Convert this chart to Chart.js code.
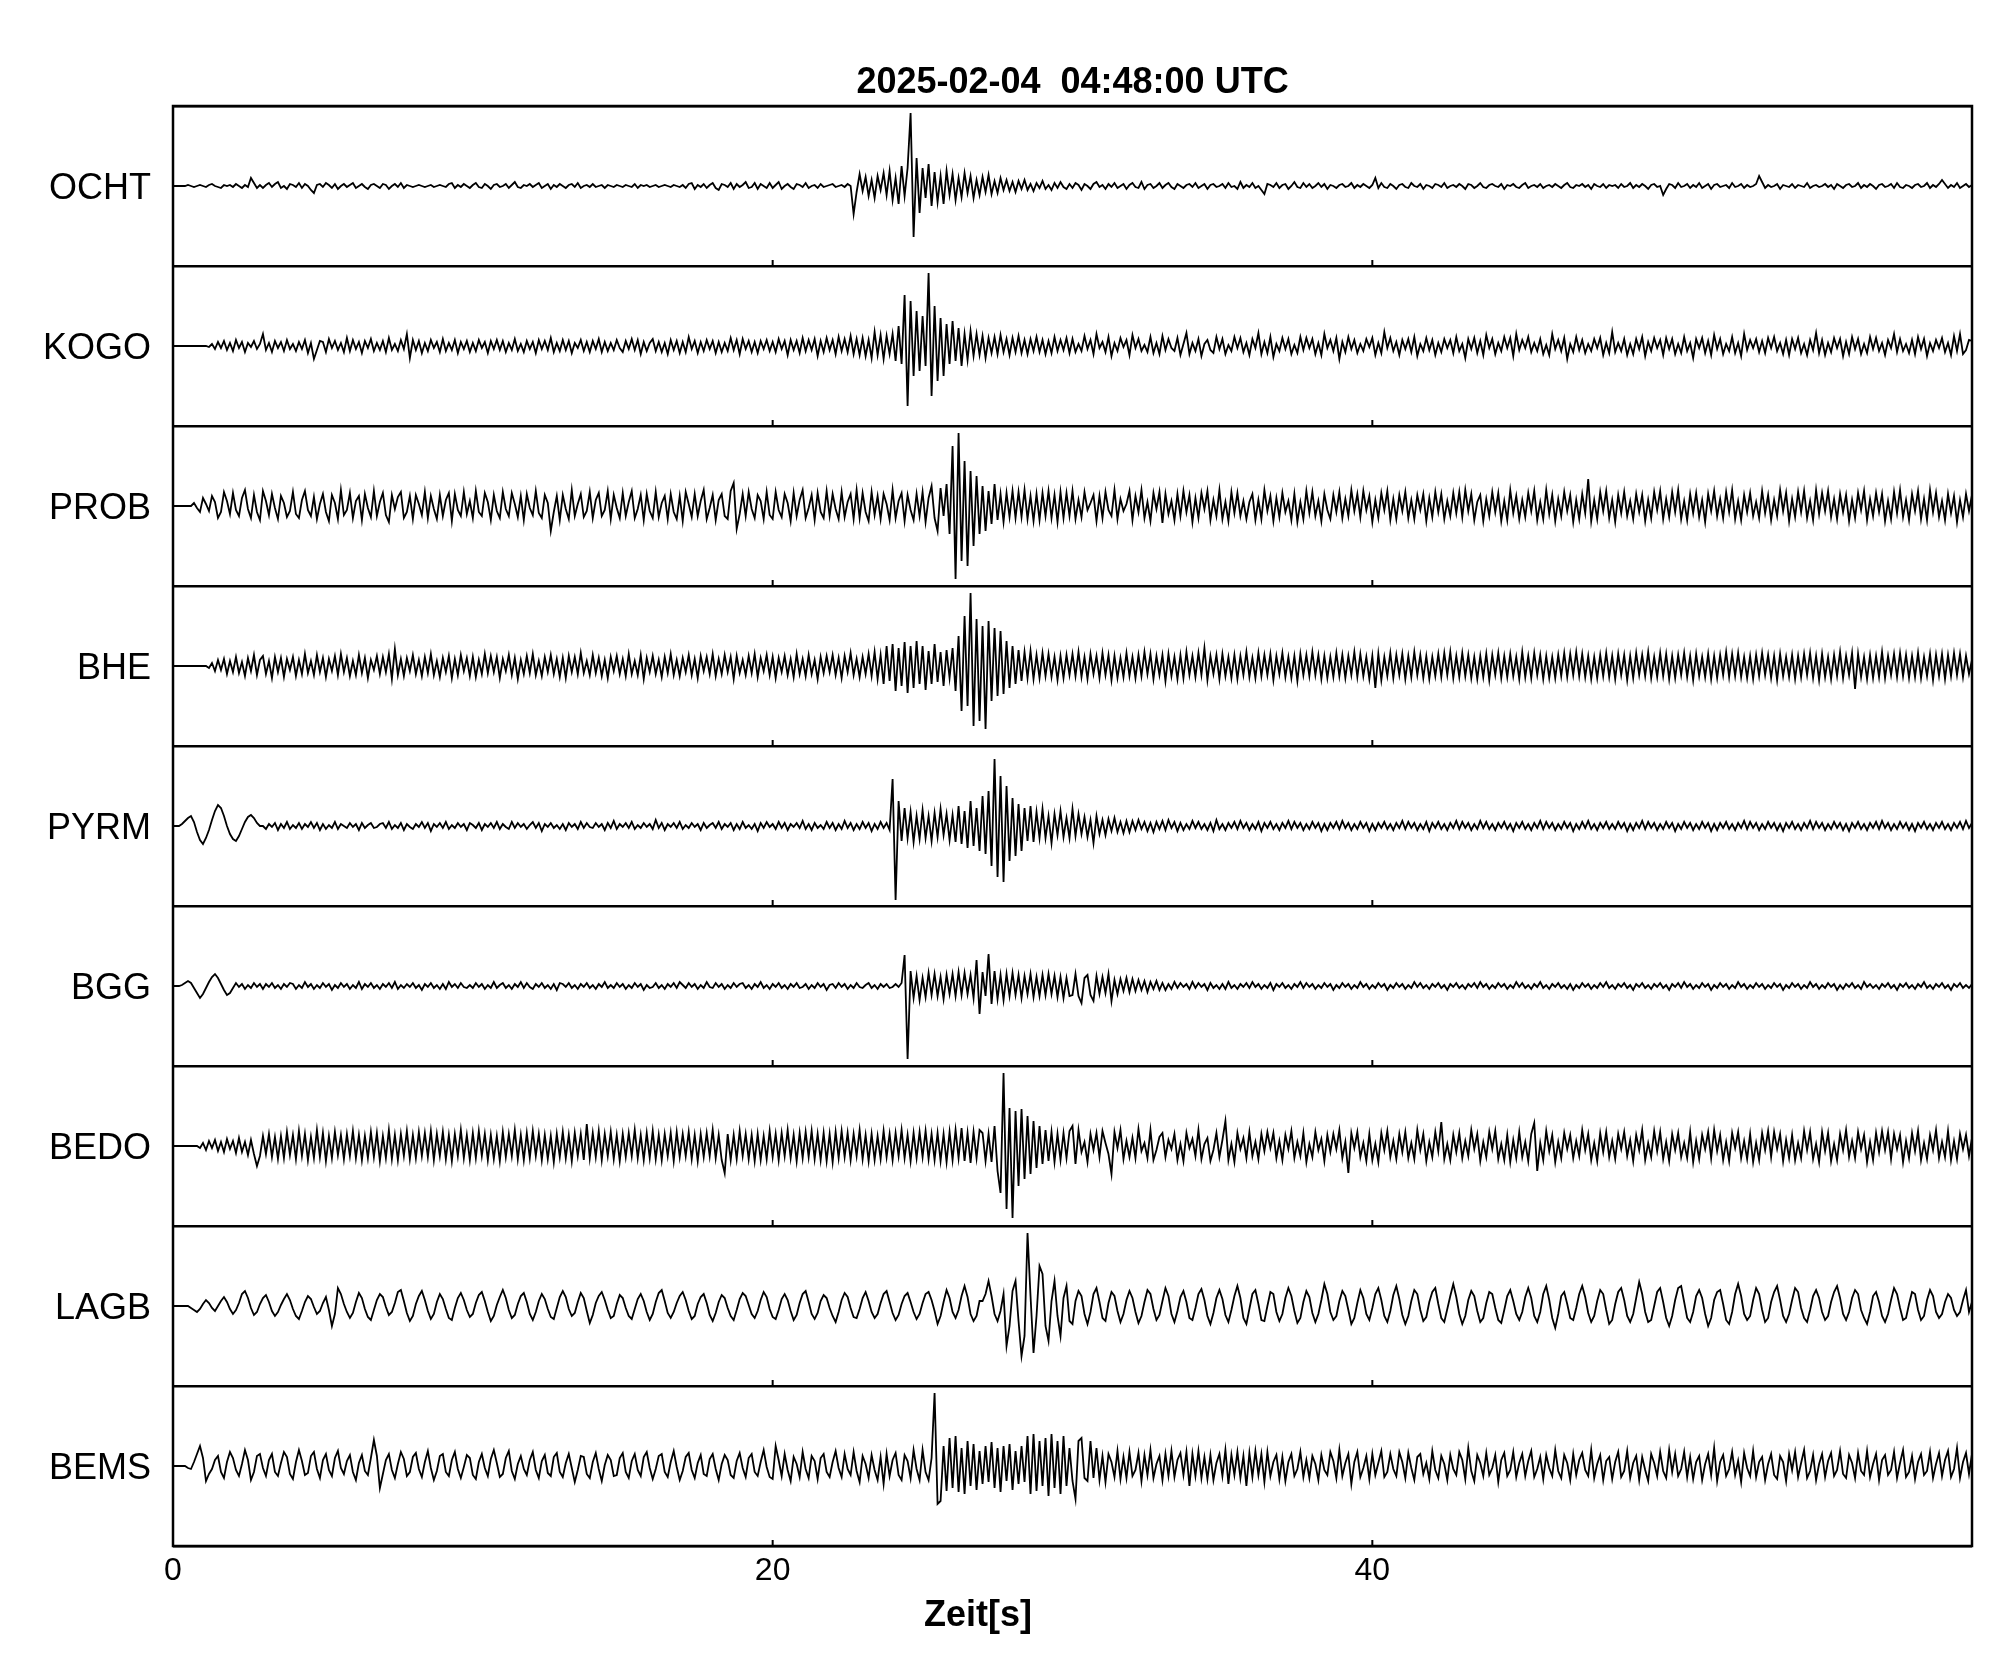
<!DOCTYPE html>
<html>
<head>
<meta charset="utf-8">
<script src="https://cdn.jsdelivr.net/npm/chart.js@4/dist/chart.umd.min.js"></script>
<style>
  html, body { margin: 0; padding: 0; background: #fff; }
  canvas { display: block; }
</style>
</head>
<body>
<canvas id="c" width="2005" height="1680"></canvas>
<script>
// --- data -------------------------------------------------------------
const TITLE = '2025-02-04  04:48:00 UTC';
const X_LABEL = 'Zeit[s]';
const STATIONS = ['OCHT', 'KOGO', 'PROB', 'BHE', 'PYRM', 'BGG', 'BEDO', 'LAGB', 'BEMS'];
const X_TICKS = [0, 20, 40];
const T_MAX = 60;
const DT = 0.1; // seconds between samples

// ground motion per station; one line = 5 s
const OCHT = [
  0,0,0,0,0,1,0,-1,0,1, 0,-1,1,2,0,-1,-2,1,0,1, -1,2,0,-2,1,-1,8,3,-2,1, -2,1,3,-1,2,4,-2,0,-3,2, 1,-1,3,-2,2,0,-4,-7,1,2,
  -1,3,1,-2,2,-3,0,2,-1,1, 3,-2,0,2,-1,-3,1,2,0,-2, 2,1,-3,0,2,-1,3,-2,1,0, -1,0,1,0,-1,0,1,-1,0,1, 0,-1,2,3,-2,1,-1,2,0,-2,
  1,3,-1,-2,2,0,-3,1,2,-1, 0,2,-2,1,4,-1,-2,1,0,2, -1,1,3,-2,0,2,-3,1,-1,2, 0,-2,1,2,-1,3,-2,0,1,-1, 2,-1,0,1,-2,1,0,-1,1,0,
  -1,1,0,-1,2,-2,1,0,1,-1, 0,1,-1,0,1,0,-1,1,0,-1, 1,-2,2,3,-3,1,-1,2,-2,1, 3,-2,-4,2,1,-1,3,-3,2,-1, 1,4,-2,-1,3,-3,2,0,-2,3,
  -2,1,4,-3,0,2,-1,-3,2,1, -1,3,-2,0,1,-2,2,-1,0,1, 2,-1,0,1,-1,2,0,-28,-6,12, -5,9,-10,6,-12,10,-4,13,-9,15, -14,8,-18,20,-10,18,73,-51,28,-27,
  18,-12,22,-20,14,-16,10,-18,15,-9, 12,-14,8,-11,13,-7,10,-12,6,-9, 9,-6,11,-8,5,-7,8,-4,6,-5, 4,-6,5,-3,6,-4,2,-5,3,-2, 5,-3,1,-4,3,-2,4,-1,-3,2,
  -2,3,1,-4,2,0,-3,2,4,-1, 1,-3,2,-1,3,-2,0,2,-3,1, 3,-1,-2,4,-3,1,2,-2,0,3, -2,1,3,-1,-3,2,0,-2,1,2, -1,3,-2,0,2,-3,1,2,-1,0,
  2,-2,3,-1,0,-3,4,-2,1,-1, 3,-2,0,-4,-8,2,1,-1,3,-2, 1,2,-3,0,4,-1,-2,3,-1,2, -2,0,3,-1,2,-3,1,0,-2,1, 2,-1,0,3,-2,1,-1,2,0,-2,
  1,8,-2,3,-1,-2,2,0,-3,1, 2,-1,-2,3,0,-1,2,-3,1,0, -2,2,1,-1,3,-2,0,1,-1,2, 0,-3,2,1,-2,0,3,-1,-2,1, 2,0,-1,2,-3,1,0,2,-1,-2,
  1,3,-2,0,1,-1,2,-2,0,1, -1,2,0,-2,1,3,-1,-2,1,0, 2,-1,1,-3,2,0,-1,2,-2,1, 0,1,-2,2,-1,0,3,-2,1,-1, 2,0,-3,1,2,-1,0,-9,-3,2,
  1,-2,3,-1,0,2,-2,1,-1,3, -2,0,2,-3,1,2,-1,0,1,-2, 3,-1,0,2,-2,1,-1,0,2,10, 4,-2,1,-1,0,2,-3,1,0,-1, 2,-2,1,0,-1,3,-2,0,1,-1,
  0,2,-1,1,-3,2,0,-2,1,2, -1,0,3,-2,1,-1,2,0,-3,1, 2,-1,0,2,-2,3,-1,-2,1,0, -2,1,2,-1,0,3,-2,1,-1,2, 6,2,-2,1,-1,3,-2,0,2,-1,
  1
];
const KOGO = [
  0,0,0,0,0,0,0,0,0,0, 0,0,-1,2,-3,4,-2,5,-4,3, -5,6,-2,4,-6,3,-1,5,-3,2, 12,-4,3,-6,5,-2,4,-5,6,-3, 2,-5,4,-3,6,-7,3,-13,-4,5,
  4,-6,7,-2,5,-4,3,-6,8,-5, 6,-3,4,-7,5,-2,7,-5,3,-4, 5,-6,8,-4,2,-5,6,-3,12,-12, 6,-4,5,-7,3,-5,6,-2,4,-6, 7,-5,3,-4,6,-7,4,-3,5,-6,
  3,-5,6,-2,4,-7,5,-3,6,-4, 5,-6,3,-4,7,-5,2,-6,5,-3, 4,-7,6,-3,5,-4,8,-6,3,-5, 6,-4,5,-7,3,-2,6,-5,4,-6, 5,-3,7,-6,4,-5,3,-4,6,-2,
  -6,5,-3,7,-4,6,-8,4,-5,3, 7,-5,4,-6,3,-8,6,-4,5,-7, 4,-6,9,-3,5,-7,4,-5,6,-3, 5,-7,4,-6,3,-5,8,-4,6,-8, 7,-3,5,-6,4,-7,5,-3,6,-5,
  4,-6,7,-3,5,-9,6,-4,5,-7, 8,-5,6,-4,7,-10,5,-6,8,-4, 6,-8,9,-5,7,-6,10,-8,7,-9, 8,-10,6,-12,14,-9,11,-13,10,-8, 12,-15,20,-18,51,-60,45,-30,35,-25,
  30,-20,73,-50,40,-35,28,-30,22,-18, 25,-15,18,-20,12,-14,15,-10,12,-9, 10,-12,8,-7,9,-8,11,-6,7,-9, 8,-6,10,-7,6,-8,7,-5,9,-6, 6,-8,5,-7,9,-5,6,-4,8,-7,
  7,-6,2,-5,10,-3,6,-8,12,-2, 4,-6,9,-10,3,-5,8,-1,6,-9, 11,-2,7,-5,1,-6,9,-7,3,-8, 10,-4,7,-2,-5,8,-9,2,13,-8, 3,-5,7,-10,2,6,-4,-7,9,-3,
  7,-8,1,-5,9,-2,8,-6,3,-9, 7,-2,13,-8,4,-7,9,-11,2,-5, 8,-3,7,-8,1,-7,9,-4,8,-2, 7,-8,3,-9,12,-2,6,-5,8,-13, 4,-6,9,-3,6,-7,2,-5,7,-1,
  8,-9,3,-7,14,-2,8,-5,4,-9, 6,-3,7,-6,9,-10,2,-5,8,-4, 6,-9,3,-6,7,-2,6,-7,9,-5, 2,-12,7,-3,8,-7,5,-9,11,-2, 7,-8,3,-5,9,-2,8,-10,12,-4,
  6,-2,9,-6,3,-5,7,-8,1,-9, 12,-3,6,-5,8,-13,2,-6,9,-4, 6,-7,2,-5,7,-2,8,-9,3,-7, 14,-6,3,-5,7,-9,2,-8,7,-3, 9,-10,4,-5,8,-2,6,-9,8,-3,
  7,-8,2,-7,9,-5,3,-12,7,-2, 8,-7,5,-9,11,-3,7,-8,2,-5, 9,-7,3,-10,12,-4,6,-2,7,-6, 5,-7,8,-2,9,-5,3,-8,6,-9, 7,-3,8,-7,2,-9,6,-4,13,-7,
  6,-9,3,-6,8,-2,7,-10,4,-8, 9,-3,7,-8,2,-7,9,-3,8,-5, 3,-9,6,-2,12,-6,7,-5,2,-7, 6,-8,9,-3,7,-10,3,-5,6,-2, 8,-6,3,-9,10,-5,12,-8,-4,6,
  5
];
const PROB = [
  0,0,0,0,0,0,0,3,-2,-6, 8,2,-5,10,4,-12,-6,14,5,-8, 13,-4,-10,8,16,-3,-12,11,-6,-14, 15,5,-9,12,-2,-13,10,3,-11,-5, 14,-8,-12,6,15,-4,-10,9,-13,2,
  12,-6,-15,11,3,-13,16,-9,-4,13, -12,5,10,-14,12,-2,-11,15,-10,4, 13,-9,-16,11,-3,9,14,-12,-6,10, -13,11,2,-9,14,-12,10,-3,-13,11, -10,6,13,-15,12,-4,-10,14,-8,5,
  -12,15,-6,-10,13,4,-14,11,-5,-12, 14,-3,-10,13,2,-11,10,-14,12,-2, -9,15,-7,-12,11,3,-25,-6,10,-14, 11,-3,-13,16,-10,2,12,-11,-5,14, -12,6,13,-10,-4,15,-13,11,-2,-12,
  13,-10,4,15,-12,-3,11,-14,12,-5, -12,14,-11,3,10,-13,12,-6,-13,10, -15,14,2,-11,12,-10,5,16,-13,-2, 11,-14,6,12,-10,-13,15,23,-23,-8, 12,-10,14,-3,-12,11,5,-13,14,-9,
  -13,14,-4,-11,12,3,-15,13,-10,6, 16,-12,-2,11,-14,13,-6,-12,15,-10, 12,-3,-13,14,-11,4,12,-13,16,-12, 13,-6,-15,14,-9,10,-13,12,2,-14, 16,-12,5,13,-15,11,-4,-14,12,-10,
  14,-16,8,20,-12,-25,18,-10,22,-28, 60,-73,73,-55,45,-60,35,-40,30,-28, 20,-25,15,-18,22,-14,12,-16,13,-11, 15,-12,14,-11,16,-13,10,-15,12,-14, 13,-10,15,-12,11,-16,14,-12,13,-10,
  15,-13,6,-11,14,-4,3,11,-15,10, -12,14,-4,-10,16,-13,7,-5,2,15, -14,10,-6,16,-12,4,-15,13,-3,14, -17,12,-8,5,-14,12,-10,15,-6,11, -16,8,-12,13,-3,15,-14,6,-10,16,
  -13,4,-15,14,-7,13,-10,5,-13,4, 12,-14,6,-13,16,-5,10,-15,8,-11, 13,-6,5,-14,12,-16,4,-13,15,-7, 14,-10,5,-15,12,-4,-13,11,-6,14, -12,7,-10,16,-5,12,-11,15,-4,10,
  -16,6,-12,13,-4,15,-14,7,-13,11, -5,14,-12,6,-13,11,-4,12,-15,8, -11,14,-6,12,-13,5,-10,13,-7,14, -11,16,-5,12,-14,4,11,-15,7,-10, 14,-6,13,-15,5,-14,16,-7,10,-13,
  6,-11,13,-5,15,-14,4,-13,16,-8, 11,-15,7,-10,14,-5,11,-16,6,-13, 12,-7,27,-15,6,-13,14,-5,15,-12, 6,-16,11,-7,14,-10,5,-13,12,-6, 11,-15,6,-12,14,-4,15,-13,7,-11,
  14,-6,16,-13,5,-14,12,-7,13,-11, 6,-16,12,-5,15,-10,7,-12,14,-6, 16,-13,5,-14,11,-6,13,-10,4,-12, 15,-7,11,-14,6,-10,16,-5,13,-15, 7,-11,14,-6,15,-12,5,-14,16,-8,
  13,-5,15,-11,7,-13,12,-6,11,-15, 6,-12,13,-4,15,-14,7,-10,13,-6, 12,-15,5,-13,14,-7,16,-11,6,-14, 12,-5,15,-13,7,-14,16,-6,13,-11, 5,-14,12,-7,10,-16,6,-11,12,-5,
  11
];
const BHE = [
  0,0,0,0,0,0,0,0,0,0, 0,0,-2,3,-5,6,-4,7,-8,5, -6,9,-7,4,-10,8,-5,11,-9,6, 10,-8,5,-12,9,-6,8,-11,7,-4, 9,-10,6,-8,12,-7,5,-9,11,-6,
  8,-11,7,-5,10,-9,12,-6,8,-10, 5,-9,11,-7,8,-12,6,-4,10,-8, 9,-6,12,-13,17,-9,7,-10,8,-5, 11,-8,6,-10,9,-7,12,-9,5,-11, 8,-6,10,-12,7,-9,11,-5,8,-10,
  9,-11,6,-8,12,-7,10,-6,9,-12, 7,-5,11,-9,8,-13,6,-8,10,-7, 12,-9,5,-10,9,-6,11,-8,7,-11, 8,-12,10,-6,9,-8,13,-7,5,-9, 11,-7,8,-10,6,-12,9,-5,10,-8,
  7,-10,12,-8,5,-9,11,-13,8,-6, 10,-8,6,-11,9,-7,12,-9,6,-10, 8,-6,11,-9,7,-12,10,-5,9,-8, 12,-10,7,-8,11,-6,9,-13,10,-7, 6,-9,10,-7,12,-11,8,-5,11,-9,
  9,-12,8,-6,10,-9,7,-11,12,-8, 7,-10,11,-8,6,-13,9,-7,10,-6, 11,-9,8,-12,10,-6,13,-9,7,-11, 9,-8,12,-10,14,-13,11,-18,20,-15, 22,-25,18,-20,24,-27,20,-22,25,-18,
  20,-24,15,-18,22,-16,14,-20,16,-12, 18,-25,30,-45,50,-40,73,-60,47,-55, 40,-63,45,-35,38,-30,35,-28,25,-22, 20,-18,16,-15,14,-12,15,-13,11,-12, 13,-10,12,-11,9,-14,10,-12,11,-9,
  12,-10,14,-11,9,-13,12,-8,10,-12, 13,-9,11,-14,10,-12,8,-11,13,-10, 9,-12,11,-10,14,-8,12,-13,10,-9, 11,-15,12,-10,9,-13,11,-12,14,-9, 10,-11,13,-9,18,-14,10,-8,11,-13,
  12,-10,9,-12,11,-13,10,-9,14,-11, 8,-12,13,-10,11,-9,12,-14,10,-8, 13,-11,9,-12,10,-15,12,-9,11,-10, 14,-9,11,-13,10,-12,9,-11,13,-10, 11,-12,10,-9,14,-11,12,-10,9,-13,
  10,-22,12,-14,9,-10,13,-12,11,-9, 12,-13,10,-11,14,-9,11,-12,10,-13, 9,-10,12,-11,13,-9,14,-12,10,-11, 13,-10,11,-12,9,-13,10,-11,12,-14, 11,-9,13,-12,10,-11,12,-10,9,-13,
  14,-11,10,-12,13,-9,11,-13,10,-12, 9,-12,11,-10,13,-11,12,-9,14,-10, 12,-11,10,-13,9,-12,11,-10,13,-11, 10,-13,12,-9,11,-14,10,-12,13,-9, 11,-10,14,-12,9,-11,13,-10,12,-13,
  10,-12,11,-9,13,-11,10,-14,12,-10, 9,-11,12,-13,10,-12,11,-9,14,-11, 12,-10,13,-11,9,-12,10,-13,11,-10, 13,-9,11,-12,10,-14,12,-10,9,-11, 11,-13,10,-11,12,-9,13,-12,10,-14,
  12,-11,9,-13,11,-10,14,-12,10,-9, 13,-23,12,-11,9,-13,11,-12,10,-11, 14,-12,10,-9,12,-11,13,-10,11,-12, 10,-11,13,-12,9,-10,12,-14,11,-10, 12,-13,11,-10,13,-9,12,-11,10,-8,
  6
];
const PYRM = [
  0,0,0,2,5,8,10,4,-6,-14, -18,-12,-4,6,15,21,18,10,0,-8, -13,-15,-10,-3,4,9,11,8,3,0, 0,-3,2,-1,3,-4,2,-2,4,-3, 1,-2,3,-3,2,-1,4,-2,3,-4,
  2,-3,1,-2,4,-3,2,0,-2,3, -1,2,-4,3,-2,1,3,-2,-1,2, 3,-2,4,-3,1,-2,3,-4,2,-1, -3,2,-1,4,-2,3,-5,2,-1,3, -2,4,-3,1,-2,3,-1,2,-4,3,
  1,-2,3,-4,2,-1,3,-2,4,-3, 2,-1,-3,4,-2,3,-1,2,-3,1, 4,-2,3,-5,2,-1,3,-2,1,-3, 2,-4,3,-1,2,-3,4,-2,3,-1, -2,3,-1,2,-4,3,-2,5,-3,2,
  -1,3,-2,4,-3,1,-2,3,-1,2, -3,6,-2,3,-4,2,-1,3,-2,4, -3,1,-2,3,-1,2,-4,3,-2,1, 3,-2,4,-3,2,-1,3,-4,2,-3, 4,-2,1,-3,2,-5,3,-2,4,-1,
  2,-3,4,-2,3,-4,2,-1,3,-2, 5,-3,2,-4,3,-2,1,-3,4,-2, 3,-4,2,-3,5,-2,3,-4,2,-3, 4,-2,3,-5,2,-3,4,-2,3,-4, 47,-74,25,-15,18,-12,14,-16,10,-13,
  16,-12,10,-15,13,-11,17,-9,12,-14, 11,-16,20,-18,15,-22,25,-20,18,-25, 30,-28,35,-40,67,-51,50,-56,40,-35, 28,-30,22,-25,18,-15,20,-16,14,-12, 17,-12,10,-17,12,-9,15,-11,8,-12,
  17,-10,12,-8,9,-11,6,-17,10,-8, 6,-9,7,-5,8,-6,4,-7,5,-6, 5,-4,6,-3,4,-5,3,-6,4,-3, 5,-4,6,-2,4,-5,3,-4,2,-3, 5,-2,4,-3,2,-4,3,-5,6,-3,
  2,-4,3,-2,4,-3,5,-2,3,-4, 2,-3,4,-5,3,-2,4,-3,2,-4, 3,-2,5,-3,4,-2,3,-4,2,-3, 4,-2,3,-5,2,-4,3,-2,4,-3, 5,-2,3,-4,2,-3,4,-2,3,-5,
  2,-4,3,-2,4,-3,2,-4,3,-2, 5,-3,4,-2,3,-4,2,-3,4,-5, 3,-2,4,-3,2,-4,3,-2,5,-3, 4,-2,3,-4,2,-3,5,-2,4,-3, 2,-4,3,-2,4,-3,2,-5,3,-2,
  4,-3,2,-4,3,-2,5,-3,4,-2, 3,-4,2,-3,4,-2,3,-5,2,-3, 4,-2,5,-3,2,-4,3,-2,4,-3, 2,-3,4,-2,3,-5,2,-4,3,-2, 5,-3,4,-2,3,-4,2,-3,4,-2,
  3,-5,2,-3,4,-2,3,-4,2,-3, 4,-2,3,-5,2,-4,3,-2,4,-3, 2,-4,3,-2,5,-3,4,-2,3,-4, 2,-3,4,-2,3,-4,2,-5,3,-2, 4,-3,2,-4,3,-2,5,-3,4,-2,
  3,-4,2,-3,4,-2,3,-4,2,-5, 3,-2,4,-3,2,-4,3,-2,4,-3, 5,-2,3,-4,2,-3,4,-2,3,-4, 2,-5,3,-2,4,-3,2,-4,3,-2, 4,-3,2,-4,3,-2,4,-3,5,-2,
  3
];
const BGG = [
  0,0,0,1,3,5,3,-2,-7,-12, -8,-2,4,9,12,8,2,-4,-9,-7, -2,3,-1,2,-3,1,-2,3,-1,2, -3,2,-1,3,-2,1,-3,2,-1,3, 2,-3,1,-2,4,-1,2,-3,1,-2,
  3,-1,2,-4,1,-2,3,-1,2,-3, 1,-2,4,-3,2,-1,3,-2,1,-3, 2,-1,3,-2,4,-3,1,-2,2,-1, 3,-2,1,-4,2,-1,3,-2,1,-3, 2,-3,4,-1,2,-2,3,-1,-2,1,
  -2,3,-1,2,-3,1,-2,4,-2,1, 3,-2,1,-3,2,-1,4,-2,3,-1, -3,2,-1,3,-2,1,-3,2,-4,3, 2,-1,3,-2,1,-3,2,-1,3,-2, 1,-3,2,-1,4,-2,1,-2,3,-1,
  2,-3,1,-2,3,-1,2,-4,1,-2, -1,3,-2,1,-3,2,-1,3,-2,4, 1,-2,3,-1,2,-3,1,-2,4,-1, -2,3,-1,2,-3,1,-2,3,-1,2, 3,-2,1,-3,2,-1,4,-2,1,-3,
  2,-1,3,-2,1,-3,2,-1,3,-2, -1,2,-3,1,-2,3,-1,2,-4,1, 2,-2,3,-1,2,-3,1,-2,3,-1, -2,1,3,-2,1,-3,2,-1,2,-2, -1,2,-1,3,31,-73,15,-12,10,-14,
  8,-11,13,-9,12,-10,9,-13,11,-8, 12,-10,14,-9,13,-8,11,-12,26,-28, 14,-10,32,-18,15,-13,11,-14,12,-10, 13,-9,11,-12,10,-8,12,-11,9,-10, 11,-9,12,-8,10,-11,9,-12,8,-10,
  -9,12,-10,-17,8,11,-9,-15,10,-8, 9,-7,12,-15,6,-8,7,-5,8,-6, 7,-5,6,-4,5,-6,4,-3,5,-4, 3,-4,2,-3,4,-2,3,-1,2,-3, 4,-2,3,-1,2,-4,3,-2,1,-3,
  2,-3,4,-2,1,-3,2,-1,3,-2, 4,-1,2,-3,1,-2,3,-4,2,-1, 3,-2,1,-3,2,-1,4,-2,3,-1, 2,-3,1,-2,3,-1,2,-4,1,-2, 3,-1,2,-3,1,-2,4,-1,2,-3,
  1,-2,3,-1,2,-4,1,-2,3,-1, 2,-3,1,-2,4,-1,3,-2,1,-3, 2,-1,3,-2,1,-4,2,-1,3,-2, 1,-3,2,-1,3,-2,4,-1,2,-3, 1,-2,3,-1,2,-3,1,-2,4,-1,
  3,-2,1,-3,2,-1,4,-2,1,-3, 2,-1,3,-2,1,-3,2,-4,1,-2, 3,-1,2,-3,1,-2,3,-1,4,-2, 1,-3,2,-1,3,-2,1,-4,2,-1, 3,-2,1,-3,2,-1,3,-2,1,-4,
  2,-1,3,-2,4,-1,2,-3,1,-2, 3,-1,2,-4,1,-2,3,-1,2,-3, 1,-2,4,-1,2,-3,1,-2,3,-1, 2,-3,1,-2,3,-1,2,-4,1,-2, 3,-1,2,-3,1,-2,4,-1,2,-3,
  1,-2,3,-1,2,-4,1,-3,2,-1, 3,-2,1,-3,4,-1,2,-2,1,-3, 2,-1,3,-2,1,-4,2,-1,3,-2, 1,-3,2,-1,4,-2,1,-3,2,-1, 3,-2,1,-4,2,-1,3,-2,1,-2,
  2
];
const BEDO = [
  0,0,0,0,0,0,0,0,0,-2, 3,-4,5,-2,6,-5,4,-6,7,-3, 5,-7,8,-6,4,-9,6,-8,-20,-10, 10,-8,12,-11,9,-13,10,-12,14,-9, 11,-13,15,-10,12,-14,9,-12,16,-11,
  13,-15,10,-12,14,-9,11,-13,12,-10, 15,-12,11,-14,10,-12,14,-11,13,-15, 10,-12,16,-13,11,-14,12,-10,15,-13, 11,-12,14,-10,13,-11,15,-14,12,-10, 14,-13,11,-15,12,-10,16,-12,11,-14,
  13,-12,15,-10,12,-14,11,-13,10,-15, 14,-11,12,-10,16,-13,11,-14,13,-12, 15,-10,12,-14,11,-13,10,-16,12,-11, 14,-12,11,-15,13,-10,12,-14,22,-12, 13,-11,15,-14,12,-10,14,-13,11,-15,
  12,-11,13,-10,16,-12,11,-14,13,-12, 15,-13,11,-14,12,-10,13,-15,14,-11, 12,-10,14,-13,11,-15,12,-11,13,-10, 16,-12,11,-14,-27,12,-14,11,-13,15, -10,12,-13,11,-15,12,-14,10,-13,15,
  -11,12,-14,13,-10,16,-12,11,-15,13, -12,14,-11,15,-13,12,-14,13,-15,12, -16,14,-12,15,-11,13,-14,12,-10,16, -13,11,-15,12,-14,10,-13,15,-11,12, -14,13,-10,16,-12,11,-15,13,-12,14,
  -11,15,-13,12,-14,13,-15,12,-16,14, -14,16,-12,18,-15,13,-17,14,-12,16, 13,-15,12,-16,20,-25,-47,73,-63,38, -72,35,-40,37,-33,30,-28,25,-22,20, -18,16,-15,14,-16,12,-14,13,-12,15,
  20,-18,16,-6,4,-16,12,-4,13,-11, 15,3,-8,-28,14,-2,16,-13,5,-11, 8,-12,17,-5,3,-12,16,-14,-4,9, 13,-11,6,-3,12,-14,2,-15,13,-2, 7,-10,16,-13,2,8,-15,-4,13,-11,
  6,25,-14,2,-16,13,-3,8,-12,14, -10,4,-13,12,-5,14,-2,13,-12,5, -14,11,-3,15,-12,4,-10,13,-16,2, -11,14,-4,7,-15,11,-6,12,-3,16, -12,4,-27,13,-2,14,-11,3,-15,12,
  -14,2,-16,13,-4,15,-11,5,-13,12, -6,14,-12,3,-13,16,-4,12,-15,4, -11,14,-5,24,-13,2,-14,11,-6,13, -12,5,-10,16,-3,12,-15,4,-11,14, -3,15,-13,2,-14,11,-16,6,-12,14,
  -11,4,-15,12,23,-25,3,-14,15,-5, 11,-16,4,-12,13,-3,11,-12,5,-10, 16,-4,12,-14,3,-15,13,-6,14,-11, 5,-13,12,-3,14,-10,6,-15,11,-4, 16,-14,3,-11,15,-5,14,-13,4,-15,
  12,-4,13,-11,3,-12,14,-16,5,-13, 11,-3,14,-12,16,-5,11,-14,4,-15, 13,-2,14,-12,5,-13,12,-16,3,-14, 13,-4,15,-11,14,-3,12,-15,6,-12, 11,-14,3,-12,15,-4,14,-13,2,-16,
  14,-5,13,-15,2,-14,12,-4,16,-11, 5,-12,14,-3,11,-16,4,-14,13,-6, 15,-4,14,-13,12,-3,11,-16,5,-12, 13,-5,15,-14,3,-13,11,-4,16,-12, 4,-11,15,-14,5,-13,12,-3,11,-10,
  8
];
const LAGB = [
  0,0,0,0,0,0,-2,-4,-6,-3, 2,6,3,-2,-5,0,5,9,4,-3, -8,-4,3,12,15,8,-2,-9,-6,2, 8,11,4,-5,-10,-6,1,7,12,6, -3,-10,-13,-5,4,10,7,-1,-8,-5,
  3,9,-4,-20,-8,18,12,2,-6,-12, -7,4,13,8,-3,-11,-14,-4,6,12, 9,-1,-9,-6,3,14,16,5,-7,-15, -10,2,10,15,6,-5,-13,-8,4,12, 7,-3,-12,-14,-2,8,13,6,-4,-11,
  -8,3,11,14,5,-6,-15,-10,1,9, 16,8,-4,-12,-9,2,10,13,4,-8, -14,-6,5,12,7,-3,-11,-13,-2,9, 15,9,-3,-10,-7,4,13,8,-5,-17, -9,3,10,14,6,-4,-12,-10,2,11,
  8,-2,-10,-13,-3,7,12,5,-6,-14, -8,4,13,16,5,-7,-12,-6,3,10, 14,6,-5,-13,-10,2,9,12,3,-9, -15,-7,4,11,8,-2,-10,-14,-4,7, 13,10,1,-8,-12,-5,6,14,9,-3,
  -11,-13,-4,7,12,6,-5,-14,-9,3, 12,15,4,-8,-13,-7,5,11,8,-2, -10,-16,-6,6,13,9,-2,-11,-12,-3, 8,14,5,-6,-12,-8,3,12,15,4, -7,-14,-9,2,10,13,4,-6,-13,-8,
  3,12,14,6,-5,-18,-10,4,16,8, -6,-12,-4,10,20,9,-8,-15,-10,5, 5,12,25,10,-8,-15,-5,12,-40,-20, 15,25,-15,-50,-30,73,10,-47,-10,40, 32,-20,-35,5,25,-10,-30,8,20,-15,
  -18,5,15,10,-8,-18,-6,12,18,4, -12,-15,3,14,10,-5,-16,-8,6,15, 8,-6,-17,-10,4,16,12,-3,-14,-9, 5,18,10,-8,-16,-5,9,15,4,-12, -14,-2,12,17,6,-10,-18,-7,8,16,
  7,-9,-16,-4,10,20,8,-12,-18,-3, 12,16,2,-14,-15,0,14,12,-6,-15, -8,8,18,10,-5,-17,-12,4,15,9, -7,-16,-8,6,22,12,-6,-14,-10,5, 15,10,-4,-18,-12,3,16,8,-8,-14,
  -2,12,18,6,-10,-16,-5,11,20,7, -9,-18,-10,5,16,12,-4,-15,-11,4, 14,18,2,-12,-16,-3,10,22,9,-8, -18,-10,6,15,10,-5,-16,-12,3,14, 12,-2,-14,-17,-4,10,16,5,-8,-14,
  -6,9,18,8,-10,-16,-6,12,20,6, -12,-22,-8,10,14,2,-12,-14,-2,12, 20,9,-7,-16,-10,5,16,12,-4,-18, -14,2,14,18,6,-10,-16,-8,8,24, 12,-6,-16,-14,0,14,18,4,-12,-20,
  -10,6,18,20,4,-12,-16,-6,10,16, 8,-8,-20,-12,6,14,16,2,-14,-18, -6,12,22,10,-8,-14,-10,6,18,12, -4,-16,-12,4,14,20,6,-10,-16,-8, 6,18,14,-2,-12,-16,-4,10,16,8,
  -6,-14,-10,4,14,20,8,-8,-14,-6, 8,16,12,-4,-12,-18,-6,10,14,4, -10,-16,-8,6,18,12,-2,-14,-12,2, 14,12,-4,-14,-10,6,16,10,-6,-12, -8,4,12,8,-4,-10,-6,6,16,-6,
  4
];
const BEMS = [
  0,0,0,0,0,-2,-3,4,12,20, 8,-15,-8,-3,6,10,-6,-12,4,14, 8,-4,-10,2,16,6,-14,-6,10,12, -2,-10,6,12,-6,-10,3,14,9,-8, -13,4,16,5,-9,-7,10,14,-3,-12,
  6,12,-4,-10,8,15,-2,-8,5,11, -6,-14,3,11,-5,-9,8,26,10,-22, -8,6,12,-4,-12,2,14,7,-10,-6, 9,13,-3,-11,4,15,-2,-14,-5,10, 12,-6,-10,6,14,-3,-12,-1,11,8,
  -9,-13,4,12,-2,-10,7,16,3,-11, -8,8,15,-5,-13,2,10,-3,-9,6, 14,-4,-12,5,11,-7,-10,9,13,-6, -11,3,12,-2,-16,-4,10,9,-8,-12, 4,13,-3,-15,1,11,6,-10,-9,8,
  13,-6,-12,5,12,-4,-10,9,14,-2, -13,-3,10,12,-6,-11,4,15,-1,-14, -5,9,13,-4,-12,3,11,-8,-10,7, 12,-3,-14,2,11,6,-9,-12,5,13, -2,-11,8,12,-6,-10,4,16,-1,-11,
  -13,20,6,-10,12,-4,-15,9,2,-11, 14,-3,-12,10,5,-13,8,12,-6,-11, 4,15,-2,-11,12,-3,-9,14,-5,-16, 10,2,-12,11,-4,-14,9,-18,12,-10, 6,13,-9,-14,11,5,-12,16,-3,-14,
  16,-6,-14,8,73,-38,-35,20,-25,28, -22,30,-26,18,-28,25,-20,22,-24,15, -18,20,-16,24,-22,18,-26,20,-15,22, -24,15,-18,20,-16,30,-28,32,-25,25, -20,28,-30,32,-22,25,-28,30,-20,18,
  -15,-33,25,28,-12,-15,25,-12,18,-14, 10,-16,12,4,-11,15,-13,9,-12,14, -10,-4,13,-15,11,-9,16,-12,2,10, -14,12,-10,15,-11,6,13,-9,14,-20, 12,-10,15,-12,9,-13,11,-14,3,12,
  -10,16,-18,11,-9,14,-12,10,-20,13, -11,15,-9,12,-16,14,-10,4,11,-13, 9,-15,4,12,-10,-3,14,-11,6,-12, 10,2,-14,11,-4,-9,14,5,-12,16, -10,3,12,-18,4,14,-11,-2,10,-13,
  12,-9,3,15,-11,-6,12,-3,-10,14, 4,-12,13,-2,-14,9,12,-8,3,-13, 15,-4,-12,10,2,-14,11,-3,-9,14, 6,-13,18,-5,-15,11,3,-10,13,-9, -2,11,-16,6,13,-10,-4,14,-11,3,
  12,-10,5,15,-11,-3,9,-13,11,-2, -10,16,-5,-12,11,3,-14,12,-9,6, 13,-4,-10,16,-12,2,11,-14,5,9, -13,4,14,-11,-5,15,-12,3,10,-14, 9,-4,-15,12,3,-10,14,-5,-12,16,
  -6,12,-10,-3,14,-11,9,-13,4,10, -14,2,12,-9,18,-15,4,11,-10,-3, 14,-9,5,-16,13,-2,-10,15,-11,4, 9,-14,2,12,-9,-13,10,4,-15,12, -4,14,-11,3,16,-12,-5,11,-14,2,
  12,-11,5,13,-10,-4,15,-8,-12,11, 3,-12,13,-5,-9,15,-11,2,12,-14, 6,11,-9,-4,14,-12,3,16,-11,-6, 10,-13,4,12,-9,-5,14,-12,2,13, -10,6,15,-11,-3,18,-12,4,13,-8,
  12
];
const TRACES = [OCHT, KOGO, PROB, BHE, PYRM, BGG, BEDO, LAGB, BEMS];

// --- layout -----------------------------------------------------------
const FONT = '"Liberation Sans", Arial, Helvetica, sans-serif';
const STRIP = 160;                 // y units per station strip
const N = STATIONS.length;
const centre = k => (N - 1 - k) * STRIP + STRIP / 2;

const datasets = TRACES.map((vals, k) => ({
  label: STATIONS[k],
  data: vals.map((v, i) => ({ x: +(i * DT).toFixed(1), y: centre(k) + v })),
  borderColor: '#000',
  borderWidth: 1.8,
  pointRadius: 0,
  fill: false,
  tension: 0,
  yAxisID: 'y'
}));

// frame, inward ticks at the foot of each strip, and the x axis name
const framePlugin = {
  id: 'frame',
  afterDraw(chart) {
    const { ctx, chartArea: a, scales } = chart;
    const xs = scales.x, ys = scales.yGrid;
    ctx.save();
    ctx.strokeStyle = '#000';
    ctx.lineWidth = 2.5;
    ctx.strokeRect(a.left, a.top, a.right - a.left, a.bottom - a.top);
    ctx.lineWidth = 2;
    ctx.beginPath();
    for (let k = 0; k < N; k++) {
      const yb = ys.getPixelForValue(k * STRIP);
      X_TICKS.forEach(t => {
        const px = xs.getPixelForValue(t);
        ctx.moveTo(px, yb);
        ctx.lineTo(px, yb - 6);
      });
    }
    ctx.stroke();
    ctx.fillStyle = '#000';
    ctx.font = 'bold 36px ' + FONT;
    ctx.textAlign = 'center';
    ctx.textBaseline = 'middle';
    ctx.fillText(X_LABEL, a.left + (a.right - a.left) * 0.4475, xs.top + 70);
    ctx.restore();
  }
};

new Chart(document.getElementById('c'), {
  type: 'line',
  data: { datasets },
  options: {
    responsive: false,
    devicePixelRatio: 1,
    animation: false,
    events: [],
    layout: { padding: { left: 0, right: 33, top: 0, bottom: 0 } },
    plugins: {
      legend: { display: false },
      tooltip: { enabled: false },
      title: {
        display: true,
        text: TITLE,
        fullSize: false,
        color: '#000',
        font: { family: FONT, size: 36, weight: 'bold' },
        padding: { top: 61, bottom: 1.8 }
      }
    },
    scales: {
      x: {
        type: 'linear',
        min: 0,
        max: T_MAX,
        afterBuildTicks: s => { s.ticks = X_TICKS.map(v => ({ value: v })); },
        afterFit: s => { s.height = 134; },
        ticks: { color: '#000', font: { family: FONT, size: 32 }, padding: 6, maxRotation: 0, autoSkip: false },
        grid: { display: false, drawTicks: false },
        border: { display: false }
      },
      y: {
        position: 'left',
        min: 0,
        max: N * STRIP,
        afterBuildTicks: s => { s.ticks = STATIONS.map((_, k) => ({ value: centre(k) })); },
        afterFit: s => { s.width = 173; },
        ticks: {
          callback: v => STATIONS[N - 1 - Math.floor(v / STRIP)],
          color: '#000',
          font: { family: FONT, size: 36 },
          padding: 22,
          labelOffset: 3,
          autoSkip: false
        },
        grid: { display: false, drawTicks: false },
        border: { display: false }
      },
      yGrid: {
        position: 'left',
        min: 0,
        max: N * STRIP,
        afterBuildTicks: s => { s.ticks = Array.from({ length: N + 1 }, (_, k) => ({ value: k * STRIP })); },
        afterFit: s => { s.width = 0; },
        ticks: { display: false },
        grid: { color: '#000', lineWidth: 2.5, drawTicks: false },
        border: { display: false }
      }
    }
  },
  plugins: [framePlugin]
});
</script>
</body>
</html>
